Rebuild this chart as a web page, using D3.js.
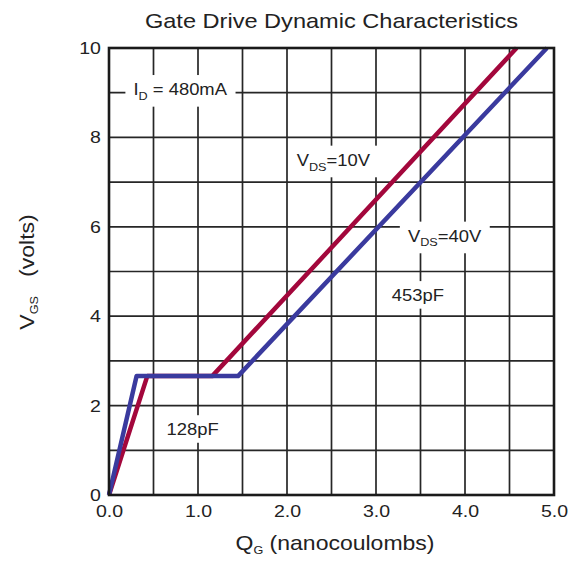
<!DOCTYPE html>
<html>
<head>
<meta charset="utf-8">
<script src="https://cdn.jsdelivr.net/npm/d3@7"></script>
<style>
body { margin: 0; background: #fff; }
text { font-family: "Liberation Sans", Arial, sans-serif; fill: #222; }
</style>
</head>
<body>
<svg id="chart" width="569" height="564"></svg>
<script>
"use strict"

// gate charge (nC) vs gate-source voltage (V)
var vds10 = [[0, 0], [0.43, 2.66], [1.16, 2.66], [4.58, 10]];
var vds40 = [[0, 0], [0.31, 2.66], [1.45, 2.66], [4.92, 10]];

var xTicks = [0, 1, 2, 3, 4, 5];
var yTicks = [0, 2, 4, 6, 8, 10];
var xGrid = d3.range(0, 5.01, 0.5);
var yGrid = d3.range(0, 10.01, 1);

// annotation text and anchor points (data units)
var notes = [
	{ main: "I", sub: "D", rest: " = 480mA", q: 0.8, v: 9.08 },
	{ main: "V", sub: "DS", rest: "=10V", q: 2.52, v: 7.5 },
	{ main: "V", sub: "DS", rest: "=40V", q: 3.77, v: 5.8 },
	{ main: "453pF", sub: "", rest: "", q: 3.47, v: 4.47 },
	{ main: "128pF", sub: "", rest: "", q: 0.94, v: 1.47 }
];

var SX = 1.15; // the original type is a little wide
var margin = { left: 109, right: 15, top: 48, bottom: 69 };
var W = 569, H = 564;

var svg = d3.select("#chart");

var x = d3.scaleLinear().domain([0, 5]).range([margin.left, W - margin.right]);
var y = d3.scaleLinear().domain([0, 10]).range([H - margin.bottom, margin.top]);

function wide(px, py) {
	return "translate(" + px + "," + py + ") scale(" + SX + ",1)";
}

// grid
var grid = svg.append("g").attr("stroke", "#262626").attr("stroke-width", 1.7);
grid.selectAll(".gx")
	.data(xGrid)
	.enter()
	.append("line")
	.attr("x1", function(d){ return x(d); })
	.attr("x2", function(d){ return x(d); })
	.attr("y1", y(0))
	.attr("y2", y(10));
grid.selectAll(".gy")
	.data(yGrid)
	.enter()
	.append("line")
	.attr("x1", x(0))
	.attr("x2", x(5))
	.attr("y1", function(d){ return y(d); })
	.attr("y2", function(d){ return y(d); });

// annotations with white boxes that mask the grid
notes.forEach(function(n) {
	var g = svg.append("g").attr("transform", wide(x(n.q), y(n.v)));
	var t = g.append("text")
		.attr("text-anchor", "middle")
		.attr("dy", "0.36em")
		.style("font-size", "16px");
	t.append("tspan").text(n.main);
	if (n.sub) {
		t.append("tspan").text(n.sub).attr("dy", 5).style("font-size", "11px");
		t.append("tspan").text(n.rest).attr("dy", -5);
	}
	var bb = t.node().getBBox();
	g.insert("rect", "text")
		.attr("x", bb.x - 7)
		.attr("y", bb.y - 5)
		.attr("width", bb.width + 14)
		.attr("height", bb.height + 9)
		.attr("fill", "#fff");
});

// curves
var line = d3.line()
	.x(function(d){ return x(d[0]); })
	.y(function(d){ return y(d[1]); });

svg.append("path")
	.datum(vds10)
	.attr("d", line)
	.attr("fill", "none")
	.attr("stroke", "#a3073c")
	.attr("stroke-width", 4.5)
	.attr("stroke-linejoin", "round");
svg.append("path")
	.datum(vds40)
	.attr("d", line)
	.attr("fill", "none")
	.attr("stroke", "#3a3a9e")
	.attr("stroke-width", 4.5)
	.attr("stroke-linejoin", "round");

// frame
svg.append("rect")
	.attr("x", x(0))
	.attr("y", y(10))
	.attr("width", x(5) - x(0))
	.attr("height", y(0) - y(10))
	.attr("fill", "none")
	.attr("stroke", "#1a1a1a")
	.attr("stroke-width", 2.6);

// axes
var xAxis = d3.axisBottom(x)
	.tickValues(xTicks)
	.tickFormat(d3.format(".1f"))
	.tickSize(0)
	.tickPadding(10);
svg.append("g")
	.attr("transform", "translate(0," + y(0) + ")")
	.call(xAxis)
	.call(function(g){ g.select(".domain").remove(); })
	.selectAll("text")
	.attr("transform", "scale(" + SX + ",1)")
	.style("font-size", "17px")
	.style("font-family", "Liberation Sans, Arial, sans-serif")
	.attr("fill", "#222");

var yAxis = d3.axisLeft(y)
	.tickValues(yTicks)
	.tickSize(0)
	.tickPadding(7);
svg.append("g")
	.attr("transform", "translate(" + x(0) + ",0)")
	.call(yAxis)
	.call(function(g){ g.select(".domain").remove(); })
	.selectAll("text")
	.attr("transform", "scale(" + SX + ",1)")
	.style("font-size", "17px")
	.style("font-family", "Liberation Sans, Arial, sans-serif")
	.attr("fill", "#222");

// title
svg.append("text")
	.attr("transform", wide((x(0) + x(5)) / 2, 28))
	.attr("text-anchor", "middle")
	.style("font-size", "20.5px")
	.text("Gate Drive Dynamic Characteristics");

// axis titles
var xt = svg.append("text")
	.attr("transform", wide(335, 550))
	.attr("text-anchor", "middle")
	.style("font-size", "20px");
xt.append("tspan").text("Q");
xt.append("tspan").text("G").attr("dy", 4).style("font-size", "11px");
xt.append("tspan").text(" (nanocoulombs)").attr("dy", -4);

var yt = svg.append("text")
	.attr("transform", "translate(34,272) rotate(-90) scale(" + SX + ",1)")
	.attr("text-anchor", "middle")
	.style("font-size", "20px");
yt.append("tspan").text("V");
yt.append("tspan").text("GS").attr("dy", 4).style("font-size", "11px");
yt.append("tspan").text("\u00a0\u00a0\u00a0(volts)").attr("dy", -4);
</script>
</body>
</html>
